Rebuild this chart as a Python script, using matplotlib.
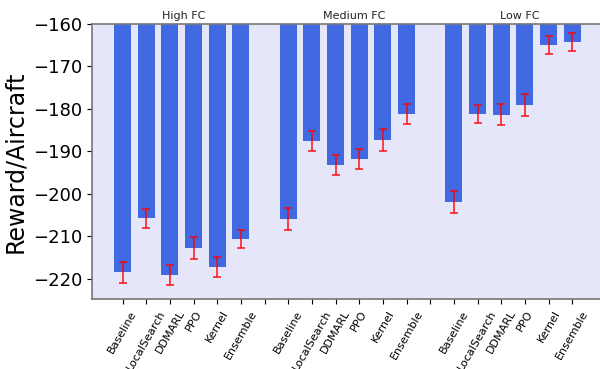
import numpy as np
import matplotlib
matplotlib.use("Agg")
import matplotlib.pyplot as plt

methods = ["Baseline", "LocalSearch", "DDMARL", "PPO", "Kernel", "Ensemble"]
groups = ["High FC", "Medium FC", "Low FC"]

high_mean = [-218.5, -205.8, -219.1, -212.8, -217.3, -210.7]
high_err  = [2.5, 2.2, 2.4, 2.7, 2.3, 2.2]
med_mean  = [-206.0, -187.6, -193.2, -191.8, -187.3, -181.2]
med_err   = [2.6, 2.4, 2.4, 2.4, 2.6, 2.4]
low_mean  = [-202.0, -181.2, -181.4, -179.1, -164.9, -164.2]
low_err   = [2.6, 2.2, 2.5, 2.6, 2.1, 2.1]

means = [high_mean, med_mean, low_mean]
errs = [high_err, med_err, low_err]

fig = plt.figure(figsize=(6, 3.69), dpi=100)
ax = fig.add_axes([0.153, 0.19, 0.852, 0.745])
ax.set_facecolor("#E6E6FA")

positions = []
labels = []
for g, (m, e) in enumerate(zip(means, errs)):
    x = np.arange(len(methods)) + g * (len(methods) + 1)
    ax.bar(x, m, width=0.72, color="#4169E1", zorder=2)
    ax.errorbar(x, m, yerr=e, fmt="none", ecolor="red", elinewidth=1.2,
                capsize=3, capthick=1.2, alpha=0.85, zorder=3)
    positions += list(x)
    labels += methods
    if g < len(means) - 1:
        positions.append(x[-1] + 1)
        labels.append("")

# group titles above the axes
title_x = [2.6, 9.8, 16.8]
for tx, name in zip(title_x, groups):
    ax.text(tx, -159.3, name, ha="center", va="bottom", fontsize=8,
            color="#222222")

ax.set_xticks(positions)
ax.set_xticklabels(labels, rotation=60, fontsize=8)
ax.set_xlim(-1.3, 20.3)
ax.set_ylim(-224.8, -160)
ax.set_yticks([-220, -210, -200, -190, -180, -170, -160])
ax.tick_params(axis="y", labelsize=13)
ax.set_ylabel("Reward/Aircraft", fontsize=17)

for s in ax.spines.values():
    s.set_color("#777777")
    s.set_linewidth(1.2)

fig.savefig("out.png", dpi=100)
